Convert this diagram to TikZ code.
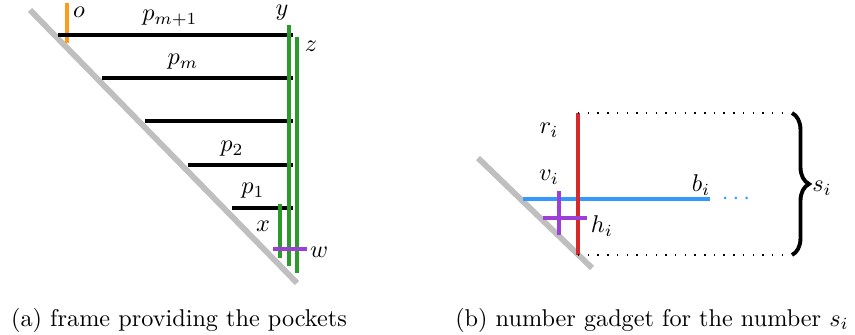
\documentclass[tikz,border=0pt]{standalone}
\usepackage{tikz}
\usetikzlibrary{positioning,decorations.pathreplacing}
\definecolor{wallgray}{HTML}{BFBFBF}
\definecolor{framegreen}{HTML}{2A9A2A}
\definecolor{pinorange}{HTML}{FF9A1A}
\definecolor{crosspurple}{HTML}{9B3FD6}
\definecolor{gadgetred}{HTML}{D62A2A}
\definecolor{numblue}{HTML}{3399FF}

\begin{document}
\begin{tikzpicture}[x=0.0145cm,y=-0.0145cm,
      wall/.style={line width=2.4pt,wallgray},
      pocket/.style={line width=1.5pt,black},
      rail/.style={line width=1.4pt,framegreen},
      cross/.style={line width=1.5pt,crosspurple},
      dots/.style={line width=0.6pt,dash pattern=on 0.6pt off 3.4pt},
      lbl/.style={inner sep=1pt},
      subcap/.style={inner sep=0pt}]
    \useasboundingbox (0,0) rectangle (855,335);

    % (a) frame
    \coordinate (wa1) at (30,10);
    \coordinate (wa2) at (297,283);
    \draw[wall] (wa1) -- (wa2);
    \coordinate (o1) at (67,3);
    \coordinate (o2) at (67,43);
    \draw[line width=1.5pt,pinorange] (o1) -- (o2);
    \coordinate (q5l) at (58,35);   \coordinate (q5r) at (293,35);
    \coordinate (q4l) at (102,78);  \coordinate (q4r) at (293,78);
    \coordinate (q3l) at (145,121); \coordinate (q3r) at (293,121);
    \coordinate (q2l) at (188,165); \coordinate (q2r) at (293,165);
    \coordinate (q1l) at (232,208); \coordinate (q1r) at (293,208);
    \draw[pocket] (q5l) -- (q5r);
    \draw[pocket] (q4l) -- (q4r);
    \draw[pocket] (q3l) -- (q3r);
    \draw[pocket] (q2l) -- (q2r);
    \draw[pocket] (q1l) -- (q1r);
    \coordinate (xt) at (280,204); \coordinate (xb) at (280,258);
    \coordinate (yt) at (289,25);  \coordinate (yb) at (289,266);
    \coordinate (zt) at (297,37);  \coordinate (zb) at (297,273);
    \draw[rail] (xt) -- (xb);
    \draw[rail] (yt) -- (yb);
    \draw[rail] (zt) -- (zb);
    \coordinate (wl) at (273,249); \coordinate (wr) at (307,249);
    \draw[cross] (wl) -- (wr);
    \node[lbl] (lo)  at (79,12)   {$o$};
    \node[lbl] (lp5) at (170,18)  {$p_{m+1}$};
    \node[lbl] (ly)  at (282,13)  {$y$};
    \node[lbl] (lz)  at (311,46)  {$z$};
    \node[lbl] (lp4) at (183,62)  {$p_m$};
    \node[lbl] (lp2) at (232,149) {$p_2$};
    \node[lbl] (lp1) at (253,191) {$p_1$};
    \node[lbl] (lx)  at (263,226) {$x$};
    \node[lbl] (lw)  at (319,252) {$w$};
    \node[subcap] (capa) at (179,320) {(a) frame providing the pockets};

    % (b) number gadget
    \coordinate (wb1) at (478,158);
    \coordinate (wb2) at (592,268);
    \draw[wall] (wb1) -- (wb2);
    \coordinate (bl) at (523,199); \coordinate (br) at (710,199);
    \draw[line width=1.5pt,numblue] (bl) -- (br);
    \node[lbl,numblue] (bdots) at (736,199) {$\cdots$};
    \coordinate (rt) at (578,113); \coordinate (rb) at (578,255);
    \draw[line width=2pt,gadgetred] (rt) -- (rb);
    \coordinate (vt) at (559,191); \coordinate (vb) at (559,235);
    \coordinate (hl) at (543,218); \coordinate (hr) at (587,218);
    \draw[cross] (vt) -- (vb);
    \draw[cross] (hl) -- (hr);
    \coordinate (dt) at (783,113); \coordinate (db) at (783,255);
    \draw[dots] (rt) -- (dt);
    \draw[dots] (rb) -- (db);
    \coordinate (st) at (792,113); \coordinate (sb) at (792,255);
    \draw[line width=1.6pt,decorate,decoration={brace,amplitude=7pt}] (st) -- (sb);
    \node[lbl] (lr) at (549,130) {$r_i$};
    \node[lbl] (lv) at (549,177) {$v_i$};
    \node[lbl] (lb) at (701,185) {$b_i$};
    \node[lbl] (lh) at (602,226) {$h_i$};
    \node[lbl] (ls) at (822,188) {$s_i$};
    \node[subcap] (capb) at (652,320) {(b) number gadget for the number $s_i$};
  \end{tikzpicture}
\end{document}
